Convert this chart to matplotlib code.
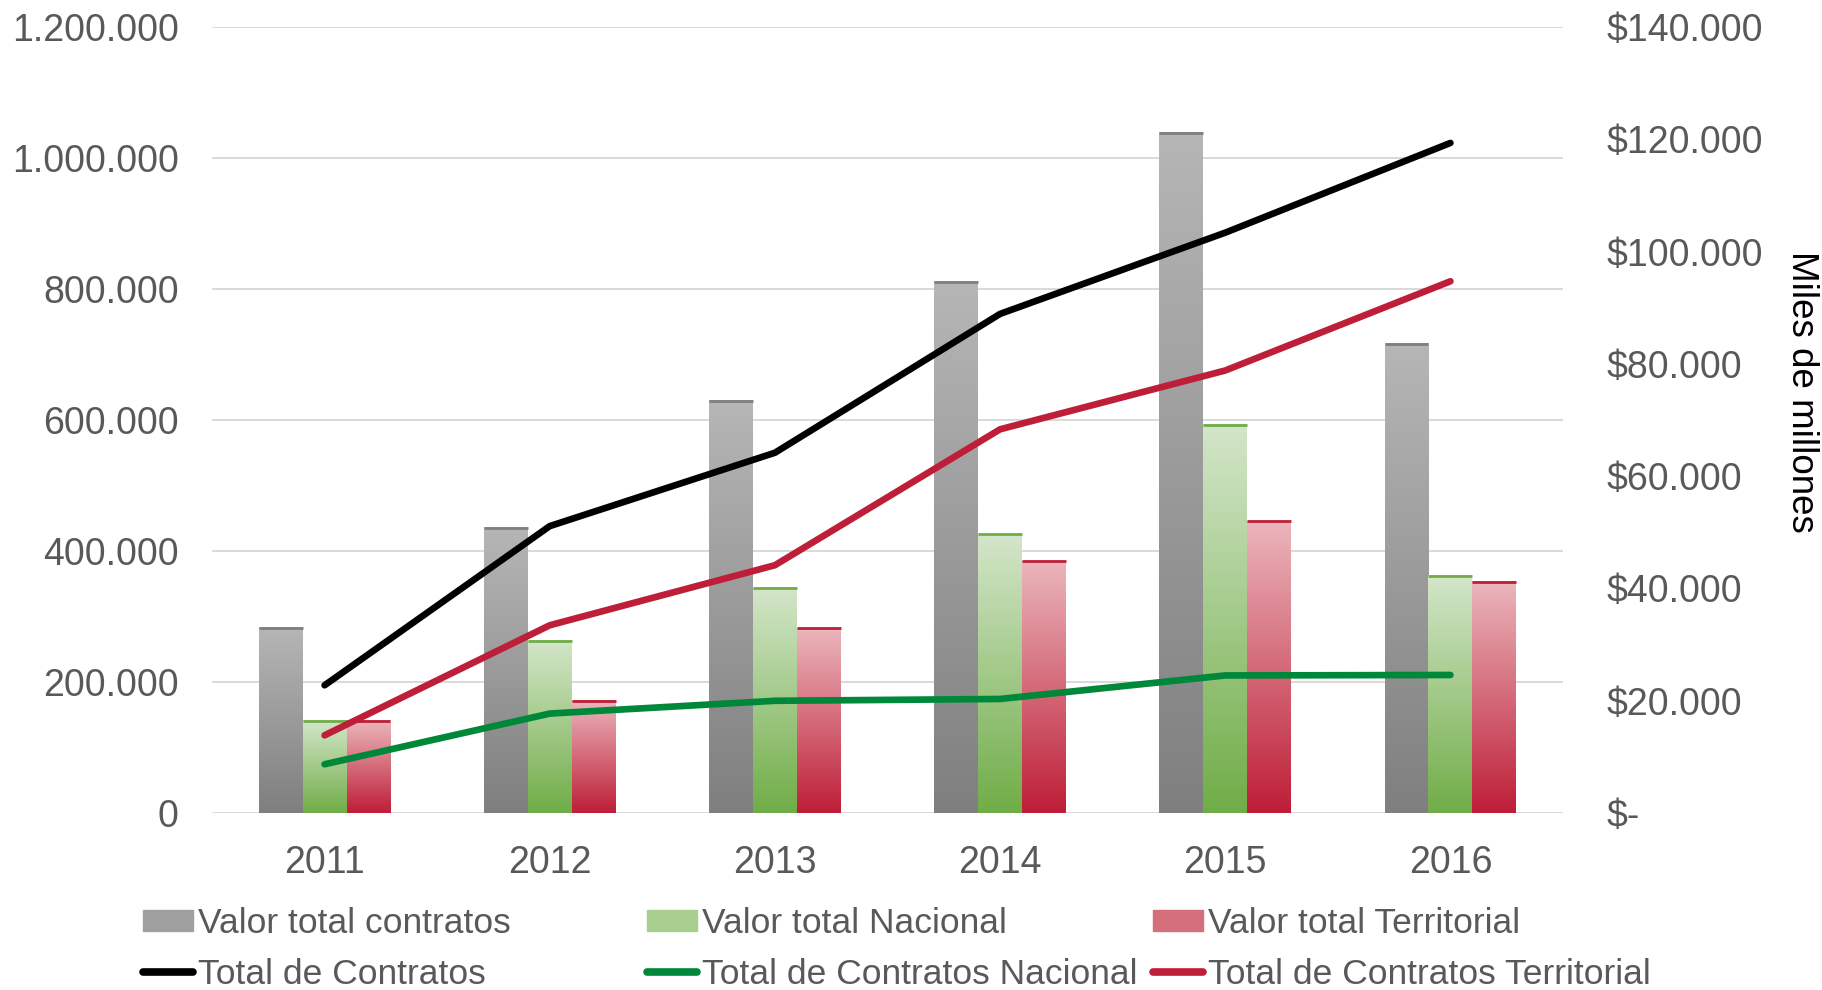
import matplotlib
matplotlib.use("Agg")
import matplotlib.pyplot as plt
import numpy as np
from matplotlib.colors import LinearSegmentedColormap
from matplotlib.lines import Line2D
from matplotlib.patches import Patch
from matplotlib.ticker import FuncFormatter

plt.rcParams["font.family"] = ["Liberation Sans", "DejaVu Sans"]

# data
years = ["2011", "2012", "2013", "2014", "2015", "2016"]
# bars, right axis (miles de millones de pesos)
valor_total = [33000, 50800, 73400, 94600, 121200, 83600]
valor_nacional = [16450, 30700, 40100, 49650, 69150, 42300]
valor_territorial = [16450, 20000, 32950, 44800, 51950, 41150]
# lines, left axis (number of contracts)
total_contratos = [195000, 438000, 550000, 762000, 886000, 1023000]
contratos_nacional = [74400, 151800, 171300, 174100, 210000, 210700]
contratos_territorial = [118600, 286600, 378300, 585800, 675600, 811800]

left_ticks = np.arange(0, 1_200_001, 200_000)
right_ticks = np.arange(0, 140_001, 20_000)

text_color = "#595959"
grid_color = "#d9d9d9"
green_line = "#00883a"
red_line = "#be1e37"


def dotted(v, _pos=None):
    return f"{v:,.0f}".replace(",", ".")


def pesos(v, _pos=None):
    return "$-" if v == 0 else "$" + dotted(v)


fig = plt.figure(figsize=(18.22, 9.9), dpi=100)
ax = fig.add_axes([212 / 1822, 1 - 813 / 990, 1351 / 1822, 786 / 990])
ax2 = ax.twinx()

x = np.arange(len(years))
w = 0.195
bar_specs = [
    (valor_total, -w, "#b6b6b6", "#7f7f7f"),
    (valor_nacional, 0.0, "#d4e6ca", "#70ad47"),
    (valor_territorial, w, "#ebb6bc", "#be1e37"),
]

ratio = right_ticks[-1] / left_ticks[-1]
for v in left_ticks:
    ax.axhline(v * ratio, color=grid_color, lw=1.4, zorder=1)

grad = np.linspace(0, 1, 256).reshape(-1, 1)
for vals, off, light, dark in bar_specs:
    cmap = LinearSegmentedColormap.from_list("g", [dark, light])
    bars = ax.bar(x + off, vals, w, color="none", lw=0)
    for p in bars:
        x0, y0 = p.get_x(), p.get_y()
        x1, y1 = x0 + p.get_width(), y0 + p.get_height()
        ax.imshow(grad, extent=[x0, x1, y0, y1], origin="lower", aspect="auto",
                  cmap=cmap, interpolation="bicubic", zorder=2)
        ax.hlines(y1, x0, x1, color=dark, lw=2, zorder=3)

line_kw = dict(lw=4.8, solid_capstyle="round", solid_joinstyle="round")
ax2.plot(x, total_contratos, color="black", **line_kw)
ax2.plot(x, contratos_nacional, color=green_line, **line_kw)
ax2.plot(x, contratos_territorial, color=red_line, **line_kw)

ax.set_xlim(-0.5, len(years) - 0.5)
ax.set_ylim(0, right_ticks[-1])
ax2.set_ylim(0, left_ticks[-1])

ax.yaxis.tick_right()
ax.set_yticks(right_ticks)
ax.yaxis.set_major_formatter(FuncFormatter(pesos))
ax.tick_params(axis="y", length=0, pad=31, labelsize=27, labelcolor=text_color)
ax.set_xticks(x, years)
ax.tick_params(axis="x", length=0, pad=23, labelsize=27, labelcolor=text_color)

ax2.yaxis.tick_left()
ax2.set_yticks(left_ticks)
ax2.yaxis.set_major_formatter(FuncFormatter(dotted))
ax2.tick_params(axis="y", length=0, pad=24, labelsize=27, labelcolor=text_color)

for a in (ax, ax2):
    for s in a.spines.values():
        s.set_visible(False)

fig.text(1801 / 1822, 1 - 392 / 990, "Miles de millones", rotation=270,
         ha="center", va="center", fontsize=26.5, color="black")

legend_cols = [
    (143, Patch(color="#a0a0a0"), "Valor total contratos",
     Line2D([], [], color="black", lw=5.5, solid_capstyle="round"), "Total de Contratos"),
    (647, Patch(color="#a9cf8f"), "Valor total Nacional",
     Line2D([], [], color=green_line, lw=5.5, solid_capstyle="round"), "Total de Contratos Nacional"),
    (1153, Patch(color="#d66f7c"), "Valor total Territorial",
     Line2D([], [], color=red_line, lw=5.5, solid_capstyle="round"), "Total de Contratos Territorial"),
]
for xpos, h1, l1, h2, l2 in legend_cols:
    fig.legend([h1, h2], [l1, l2], loc="upper left",
               bbox_to_anchor=(xpos / 1822, 1 - 907 / 990), frameon=False,
               fontsize=25.5, handlelength=1.42, handleheight=0.5, handletextpad=0.12,
               labelspacing=0.5, borderpad=0, borderaxespad=0,
               labelcolor=text_color)

fig.savefig("out.png", dpi=100)
